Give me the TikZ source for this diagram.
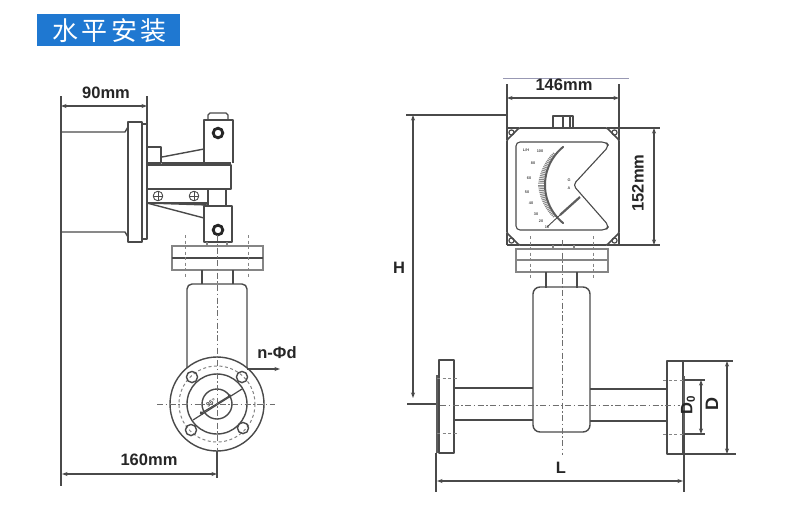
\documentclass[tikz,border=0pt]{standalone}
\usepackage{fontspec}
\setmainfont{Liberation Sans}
\newfontfamily\cjkfont{Noto Sans CJK SC}
\usetikzlibrary{arrows.meta}
\definecolor{ink}{HTML}{4A4A4A}
\definecolor{soft}{HTML}{858585}
\definecolor{headblue}{HTML}{1F78D1}
\tikzset{
  part/.style={draw=ink,line width=1.4pt,line join=round},
  faint/.style={draw=soft,line width=1.1pt},
  extline/.style={draw=ink,line width=1.2pt},
  dimline/.style={draw=ink,line width=1.1pt,{Stealth[length=5.5pt,width=4pt]}-{Stealth[length=5.5pt,width=4pt]}},
  leader/.style={draw=ink,line width=1.1pt,-{Stealth[length=5.5pt,width=4pt]}},
  centre/.style={draw=ink!80,line width=1pt,dash pattern=on 6pt off 2.5pt on 1.5pt off 2.5pt},
  bolt/.style={draw=soft,line width=1pt,dash pattern=on 3pt off 2.5pt},
  dimtext/.style={font=\fontsize{16.5}{18}\selectfont\bfseries,text=black!85,inner sep=0pt},
  tiny/.style={font=\fontsize{3.8}{4}\selectfont\bfseries,text=ink,inner sep=0pt},
}
\begin{document}
\begin{tikzpicture}[x=1pt,y=-1pt]
\useasboundingbox (0,0) rectangle (790,512);
\fill[white] (0,0) rectangle (790,512);
% header
\fill[headblue] (37,14) rectangle (180,46);
\node[text=white,font=\fontsize{26}{28}\cjkfont,inner sep=0pt] (title) at (109.5,31) {水\hspace{3.2pt}平\hspace{3.2pt}安\hspace{3.2pt}装};

%% LEFT VIEW
\draw[extline] (61,96) -- (61,486);
\draw[extline] (147,96) -- (147,125);
\draw[dimline] (61,106) -- (147,106);
\node[dimtext] (d90) at (106,93) {90mm};
% cylinder and flange
\draw[part] (61,132) -- (125,132) -- (128,127);
\draw[part] (61,232) -- (125,232) -- (128,237);
\draw[part,fill=white] (128,122) rectangle (142,242);
\draw[part] (142,124) rectangle (147,239);
% bracket
\draw[part] (147,147) rectangle (161,163);
\draw[part] (162,157) -- (204,149);
\draw[part] (162,163) -- (231,163);
\draw[part] (204,163) -- (204,120) -- (233,120) -- (233,163);
\draw[part] (208,120) -- (208,115) -- (210,113) -- (226,113) -- (228,115) -- (228,120);
\draw[part] (147,165) rectangle (231,189);
\draw[part] (147,189) rectangle (208,203);
\draw[part] (208,189) rectangle (226,206);
\draw[part] (147,203) -- (204,218);
\draw[part] (147,203) -- (208,205);
\draw[part] (204,206) rectangle (232,242);
\foreach \cy in {133,230}{
  \draw[black!85,line width=2.8pt] (218,\cy) circle (4.8);
}
\foreach \cx in {158,194}{
  \draw[part,line width=.9pt] (\cx,196) circle (4.8);
  \draw[ink,line width=.8pt] (\cx-4.8,196) -- (\cx+4.8,196) (\cx,191.2) -- (\cx,200.8);
}
% left neck and flanges
\draw[faint] (207,242) -- (207,246) (227,242) -- (227,246);
\draw[faint] (172,246) rectangle (263,270);
\draw[part] (172,258) -- (263,258);
\draw[bolt] (185,235) -- (185,277);
\draw[bolt] (248,235) -- (248,277);
\draw[part] (202,270) -- (202,284);
\draw[part] (233,270) -- (233,284);
% meter body
\draw[part,rounded corners=5pt] (187,368) -- (187,284) -- (247,284) -- (247,368);
% round flange
\draw[part,fill=white] (217,404) circle (47);
\draw[part] (217,404) circle (30);
\draw[part] (217,404) circle (15);
\draw[bolt] (217,404) circle (38);
\draw[part] (192,377) circle (5.6);
\draw[part] (242,377) circle (5.6);
\draw[part] (191,430) circle (5.6);
\draw[part] (243,428) circle (5.6);
\draw[part,line width=1.2pt,{Circle[length=3.5pt]}-{Circle[length=3.5pt]}] (200,414) -- (231,395);
\draw[part,line width=1.2pt] (193,420) -- (242,389);
\node[tiny,font=\fontsize{6.5}{7}\selectfont\bfseries,rotate=30,fill=white,inner sep=.5pt] (dn) at (211,403) {95°};
\draw[centre] (157,404) -- (275,404);
\draw[centre] (217,235) -- (217,451);
\draw[extline] (217,451) -- (217,478);
\draw[dimline] (62,474) -- (217,474);
\node[dimtext] (d160) at (149,460) {160mm};
\draw[leader] (247,369) -- (280,369);
\node[dimtext] (dnphi) at (277,353) {n-Φd};

%% RIGHT VIEW
\draw[draw=blue!15!gray!70,line width=0.9pt] (503,78) -- (629,78);
\draw[extline] (507,84) -- (507,128);
\draw[extline] (619,84) -- (619,128);
\draw[dimline] (507,98) -- (619,98);
\node[dimtext] (d146) at (564,85) {146mm};
\draw[extline] (406,115) -- (507,115);
\draw[dimline] (413,115) -- (413,398);
\node[dimtext] (dH) at (399,268) {H};
\draw[extline] (407,404) -- (437,404);
% top nub
\draw[part] (553,128) -- (553,116) -- (573,116) -- (573,128);
\draw[part] (563,116) -- (563,128) (570,116) -- (570,128);
% head
\draw[part,line width=1.6pt,rounded corners=1pt] (519,128) -- (607,128) -- (619,140) -- (619,233) -- (607,245) -- (519,245) -- (507,233) -- (507,140) -- cycle;
\draw[part] (507,128) -- (519,128) (507,128) -- (507,140) (619,128) -- (607,128) (619,128) -- (619,140) (507,245) -- (519,245) (507,245) -- (507,233) (619,245) -- (607,245) (619,245) -- (619,233);
\foreach \cx/\cy in {511.5/132.5,614.5/132.5,511.5/240.5,614.5/240.5}{
  \draw[part,line width=1.2pt] (\cx,\cy) circle (2.6);
}
\draw[extline] (619,128) -- (660,128);
\draw[extline] (619,245) -- (660,245);
\draw[dimline] (654,128) -- (654,245);
\node[dimtext,rotate=90] (d152) at (638,183) {152mm};
% window
\draw[part,line width=1.1pt,rounded corners=4pt] (516,142) -- (606,142) -- (609,146) -- (573,185) -- (609,226) -- (606,230) -- (516,230) -- cycle;
% scale
\foreach \a in {142,144,...,218}{
  \draw[soft,line width=1pt] ({594+50*cos(\a)},{185-50*sin(\a)}) -- ({594+(56-abs(\a-180)/10)*cos(\a)},{185-(56-abs(\a-180)/10)*sin(\a)});
}
\draw[soft!70!black,line width=2pt,line cap=round] plot[domain=129:231,samples=40,smooth] ({594+49*cos(\x)},{185-49*sin(\x)});
\draw[ink,line width=.9pt] (547,227) -- (560,215);
\draw[soft!70!black,line width=2.2pt] (560,215) -- (580,197);
\node[tiny] (s0) at (526,150) {L/H};
\node[tiny] (s1) at (540,151) {100};
\node[tiny] (s2) at (533,163) {80};
\node[tiny] (s3) at (529,178) {60};
\node[tiny] (s4) at (527,192) {50};
\node[tiny] (s5) at (531,203) {40};
\node[tiny] (s6) at (536,214) {30};
\node[tiny] (s7) at (541,221) {20};
\node[tiny] (s8) at (547,227) {10};
\node[tiny] (s9) at (569,180) {G};
\node[tiny] (s10) at (569,188) {A};
% right flanges
\draw[faint] (553,245) -- (553,249) (574,245) -- (574,249);
\draw[faint] (516,249) rectangle (608,272);
\draw[faint] (516,260) -- (608,260);
\draw[bolt] (530,236) -- (530,278);
\draw[bolt] (593,236) -- (593,278);
\draw[part] (546,272) -- (546,288);
\draw[part] (577,272) -- (577,288);
% tube and body
\draw[part] (454,388) -- (533,388);
\draw[part] (454,420) -- (533,420);
\draw[part] (590,389) -- (667,389);
\draw[part] (590,421) -- (667,421);
\draw[part,rounded corners=7pt] (533,287) rectangle (590,432);
\draw[part] (439,360) rectangle (454,453);
\draw[part] (667,361) rectangle (683,454);
\draw[soft!70!black,line width=2pt] (437,375) -- (437,453);
\draw[soft!70!black,line width=2pt] (684,376) -- (684,435);
\draw[bolt] (437,378) -- (457,378);
\draw[bolt] (437,433) -- (457,433);
\draw[bolt] (663,380) -- (684,380);
\draw[bolt] (663,434) -- (684,434);
\draw[centre] (440,405) -- (680,405);
\draw[centre] (562,240) -- (562,455);
% L
\draw[extline] (436,453) -- (436,492);
\draw[extline] (684,435) -- (684,492);
\draw[dimline] (437,481) -- (683,481);
\node[dimtext] (dL) at (561,468) {L};
% D
\draw[extline] (683,361) -- (733,361);
\draw[extline] (683,454) -- (736,454);
\draw[dimline] (727,361) -- (727,454);
\node[dimtext,rotate=90,font=\fontsize{18}{20}\selectfont\bfseries] (dD) at (712,404) {D};
% D0
\draw[extline] (684,380) -- (705,380);
\draw[extline] (684,434) -- (705,434);
\draw[dimline] (701,380) -- (701,434);
\node[dimtext,rotate=90] (dDzero) at (688,405) {D\textsubscript{0}};
\end{tikzpicture}
\end{document}
